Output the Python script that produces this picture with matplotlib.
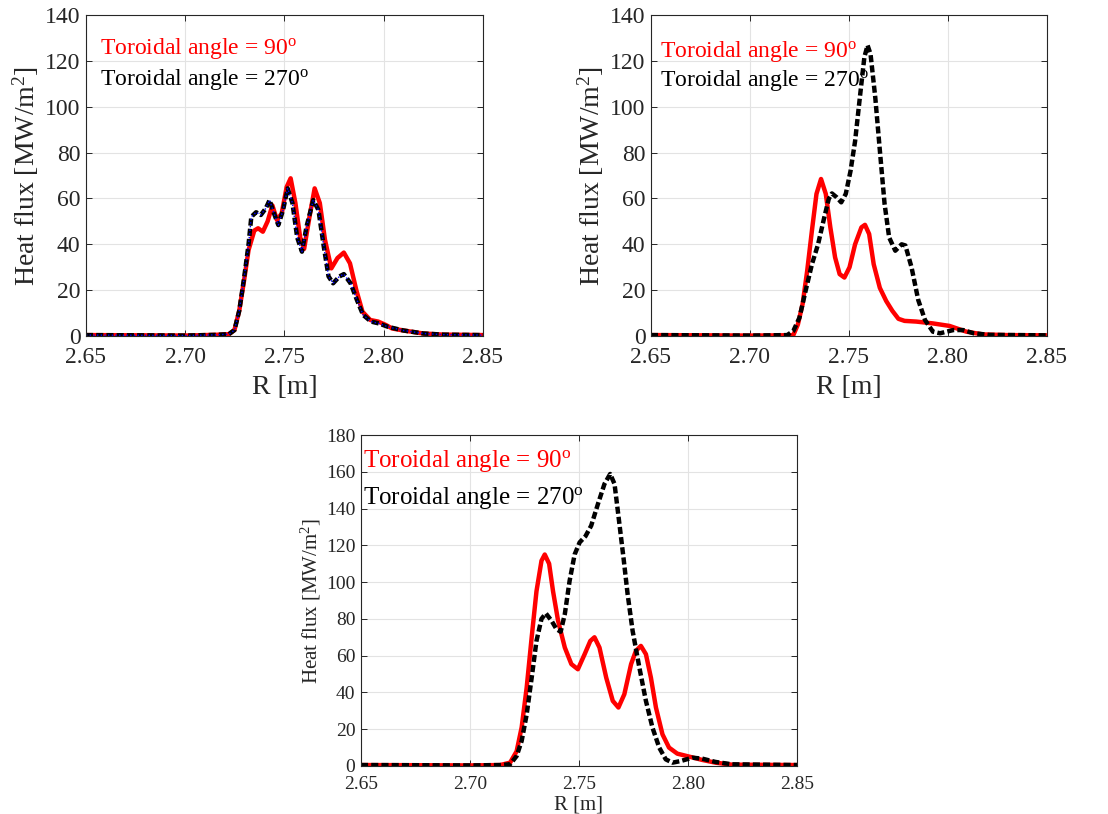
import matplotlib
matplotlib.use("Agg")
import matplotlib.pyplot as plt

plt.rcParams['font.family'] = ['Liberation Serif', 'DejaVu Serif']
plt.rcParams['mathtext.fontset'] = 'custom'
plt.rcParams['mathtext.rm'] = 'Liberation Serif'
plt.rcParams['mathtext.it'] = 'Liberation Serif:italic'

# ---- panel 1 (top left) ----
r1_red = [2.65, 2.68, 2.70, 2.715, 2.722, 2.7248, 2.7272, 2.7296, 2.7319, 2.7348, 2.7367, 2.7391,
          2.7415, 2.7439, 2.7462, 2.7486, 2.7511, 2.7531, 2.7555, 2.7579, 2.7599, 2.7626, 2.7652,
          2.7678, 2.7704, 2.7736, 2.7767, 2.7799, 2.783, 2.7862, 2.7893, 2.7932, 2.7972, 2.8011,
          2.8042, 2.81, 2.82, 2.83, 2.85]
q1_red = [0.4, 0.3, 0.2, 0.5, 0.8, 2.6, 11.0, 24.0, 37.5, 46.0, 47.0, 45.5,
          50.0, 57.0, 50.6, 53.5, 65.0, 68.8, 58.0, 43.0, 38.0, 52.0, 64.4,
          58.0, 42.0, 29.5, 34.0, 36.4, 31.7, 20.0, 10.6, 7.0, 6.3, 4.8,
          3.3, 2.4, 1.1, 0.6, 0.4]
r1_blk = [2.65, 2.68, 2.70, 2.715, 2.722, 2.7248, 2.7272, 2.7296, 2.7319, 2.7333, 2.7357, 2.7381,
          2.7406, 2.7425, 2.7445, 2.7469, 2.7493, 2.7516, 2.754, 2.7564, 2.7588, 2.7611, 2.7645,
          2.7671, 2.7698, 2.7722, 2.7745, 2.7777, 2.7799, 2.7833, 2.7865, 2.7896, 2.7936, 2.7975,
          2.8022, 2.81, 2.82, 2.83, 2.85]
q1_blk = [0.4, 0.3, 0.2, 0.5, 0.8, 2.6, 11.0, 25.0, 40.0, 52.0, 54.0, 52.8,
          55.7, 59.3, 54.0, 48.4, 55.0, 64.4, 58.0, 43.0, 36.8, 47.7, 59.3,
          55.0, 39.0, 26.0, 23.0, 26.0, 27.0, 23.0, 15.7, 9.2, 6.3, 5.5,
          4.0, 2.4, 1.1, 0.6, 0.4]

# ---- panel 2 (top right) ----
r2_red = [2.65, 2.68, 2.70, 2.715, 2.7219, 2.7242, 2.7266, 2.7289, 2.7313, 2.7336, 2.7359, 2.7383,
          2.7406, 2.743, 2.7453, 2.7477, 2.7503, 2.7531, 2.7563, 2.7581, 2.7602, 2.7625, 2.7656,
          2.7688, 2.7719, 2.775, 2.7781, 2.784, 2.7924, 2.8008, 2.8093, 2.8177, 2.83, 2.85]
q2_red = [0.4, 0.3, 0.2, 0.3, 0.4, 5.0, 14.0, 28.4, 46.0, 62.0, 68.5, 62.0,
          47.4, 34.3, 27.0, 25.5, 30.0, 40.0, 47.4, 48.5, 44.5, 31.3, 21.0,
          15.3, 11.0, 7.5, 6.6, 6.3, 5.5, 4.4, 1.9, 0.7, 0.4, 0.3]
r2_blk = [2.65, 2.68, 2.70, 2.7188, 2.7219, 2.725, 2.7281, 2.7313, 2.7344, 2.7375, 2.7398, 2.7414,
          2.7438, 2.7461, 2.7484, 2.7508, 2.7531, 2.7555, 2.7578, 2.7594, 2.7609, 2.7633, 2.7656,
          2.768, 2.7703, 2.7734, 2.7766, 2.7785, 2.7816, 2.785, 2.7884, 2.7924, 2.796, 2.8027,
          2.8076, 2.813, 2.821, 2.85]
q2_blk = [0.4, 0.3, 0.2, 0.4, 2.2, 8.0, 19.7, 31.3, 40.0, 51.6, 59.8, 62.2,
          60.5, 58.3, 62.0, 72.0, 85.0, 104.0, 121.7, 126.8, 123.0, 104.0, 81.0,
          57.6, 43.0, 37.2, 40.0, 39.5, 30.0, 15.7, 7.0, 1.9, 1.2, 2.6,
          2.6, 1.2, 0.5, 0.3]

# ---- panel 3 (bottom) ----
r3_red = [2.65, 2.68, 2.70, 2.7138, 2.7184, 2.7214, 2.7237, 2.726, 2.7283, 2.7305, 2.7328, 2.7343,
          2.7363, 2.7381, 2.7404, 2.7435, 2.7465, 2.7495, 2.7526, 2.7552, 2.7571, 2.7594, 2.7625,
          2.7655, 2.7681, 2.7708, 2.7739, 2.7761, 2.7784, 2.7807, 2.783, 2.7853, 2.7883, 2.7913,
          2.7951, 2.8005, 2.8065, 2.8126, 2.8202, 2.85]
q3_red = [0.5, 0.4, 0.3, 0.5, 1.8, 8.0, 21.0, 42.6, 70.0, 95.0, 111.6, 115.0,
          110.0, 95.0, 79.0, 64.4, 55.4, 52.6, 60.8, 68.0, 70.0, 64.4, 48.0,
          35.4, 31.8, 39.0, 55.4, 62.6, 65.3, 60.8, 48.0, 31.8, 17.2, 10.0,
          6.7, 5.1, 3.3, 1.8, 0.7, 0.5]
r3_blk = [2.65, 2.68, 2.70, 2.7138, 2.7184, 2.7214, 2.7237, 2.726, 2.7283, 2.7305, 2.7328, 2.7348,
          2.7374, 2.7397, 2.7416, 2.7435, 2.7457, 2.748, 2.7503, 2.753, 2.7556, 2.7587, 2.7617,
          2.7643, 2.7663, 2.7682, 2.7704, 2.7723, 2.7746, 2.7777, 2.7807, 2.7837, 2.7868, 2.7898,
          2.7929, 2.7967, 2.802, 2.8065, 2.8126, 2.8202, 2.85]
q3_blk = [0.5, 0.4, 0.3, 0.5, 0.9, 5.4, 13.6, 28.0, 48.0, 68.0, 80.0, 83.0,
          79.0, 74.4, 73.0, 82.6, 100.7, 115.0, 121.6, 125.0, 130.7, 142.5, 153.4,
          158.8, 153.4, 135.0, 113.4, 93.5, 73.5, 53.5, 35.4, 20.9, 10.0, 3.6,
          1.8, 2.7, 4.5, 4.0, 2.2, 0.9, 0.5]

xticks = [2.65, 2.70, 2.75, 2.80, 2.85]
lab90 = r'Toroidal angle = 90$^{\mathrm{o}}$'
lab270 = r'Toroidal angle = 270$^{\mathrm{o}}$'
ylab = r'Heat flux [MW/m$^{2}$]'

fig = plt.figure(figsize=(11.08, 8.14), dpi=100)
ax1 = fig.add_axes([0.0776, 0.5872, 0.3583, 0.3943])
ax2 = fig.add_axes([0.5875, 0.5872, 0.3574, 0.3943])
ax3 = fig.add_axes([0.3258, 0.0590, 0.3935, 0.4066])


def style(ax, ymax, tick_fs, lab_fs, xpad, xlpad, ylpad):
    ax.set_xlim(2.65, 2.85)
    ax.set_ylim(0, ymax)
    ax.set_xticks(xticks)
    ax.set_xticklabels(['%.2f' % t for t in xticks])
    ax.set_yticks(range(0, ymax + 1, 20))
    ax.grid(True, color='#e3e3e3', lw=0.8)
    ax.set_axisbelow(True)
    ax.tick_params(direction='in', top=True, right=True, length=4, width=0.7,
                   labelsize=tick_fs, colors='#262626')
    ax.tick_params(axis='x', pad=xpad)
    ax.tick_params(axis='y', pad=4)
    for s in ax.spines.values():
        s.set_color('#262626')
        s.set_linewidth(0.8)
    ax.set_ylabel(ylab, fontsize=lab_fs, color='#262626', labelpad=ylpad)
    ax.set_xlabel('R [m]', fontsize=lab_fs, color='#262626', labelpad=xlpad)


dash = (1.6, 0.7)

ax1.plot(r1_red, q1_red, color='red', lw=3.2)
ax1.plot(r1_blk, q1_blk, color='black', lw=3.2, dashes=dash)
ax1.plot(r1_blk, q1_blk, color='blue', lw=1.0, ls=':')
style(ax1, 140, 17, 20, 8, 5, 3)
ax1.text(0.036, 125.5, lab90, color='red', fontsize=17, va='center', transform=ax1.get_yaxis_transform())
ax1.text(0.036, 112, lab270, color='black', fontsize=17, va='center', transform=ax1.get_yaxis_transform())

ax2.plot(r2_red, q2_red, color='red', lw=3.2)
ax2.plot(r2_blk, q2_blk, color='black', lw=3.2, dashes=dash)
style(ax2, 140, 17, 20, 8, 5, 3)
ax2.text(0.022, 124, lab90, color='red', fontsize=17, va='center', transform=ax2.get_yaxis_transform())
ax2.text(0.022, 111.5, lab270, color='black', fontsize=17, va='center', transform=ax2.get_yaxis_transform())

ax3.plot(r3_red, q3_red, color='red', lw=3.2)
ax3.plot(r3_blk, q3_blk, color='black', lw=3.2, dashes=dash)
style(ax3, 180, 14, 15, 7, 2, 2)
ax3.text(0.005, 166, lab90, color='red', fontsize=18, va='center', transform=ax3.get_yaxis_transform())
ax3.text(0.005, 146, lab270, color='black', fontsize=18, va='center', transform=ax3.get_yaxis_transform())

fig.savefig('out.png', dpi=100)
